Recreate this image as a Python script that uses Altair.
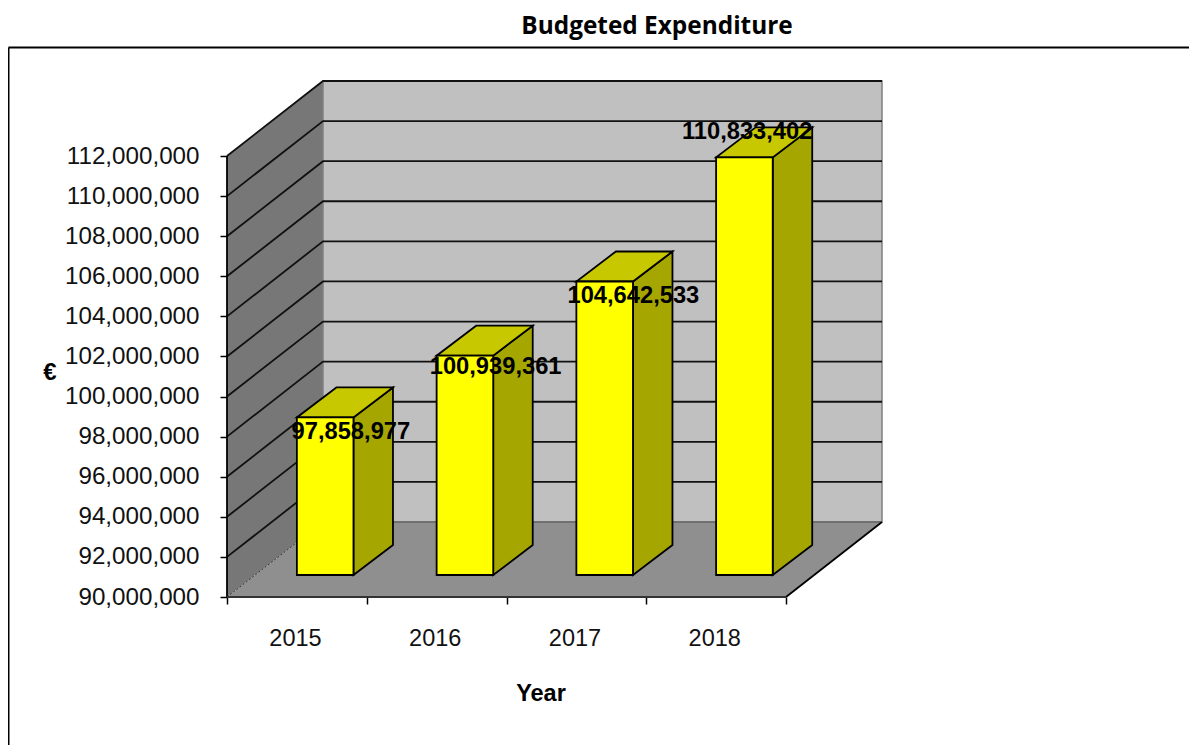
import altair as alt

# ---- chart values
years = ["2015", "2016", "2017", "2018"]
budget = [97858977, 100939361, 104642533, 110833402]
y_ticks = [90000000, 92000000, 94000000, 96000000, 98000000, 100000000,
           102000000, 104000000, 106000000, 108000000, 110000000, 112000000]

# ---- layout of the fake 3-D projection
PLOT_W, PLOT_H = 655, 516
PX_X = 139.75            # px per category
PX_Y = 441 / 22e6        # px per euro
BASE = 90000000
X_MAX = PLOT_W / PX_X
Y_MAX = BASE + PLOT_H / PX_Y
WALL_X = 96 / PX_X       # depth of the box
WALL_Y = 75 / PX_Y
BAR_X0, BAR_X1 = 0.5, 0.905
BAR_DX = 39.5 / PX_X     # depth of a bar
BAR_DY = 30 / PX_Y
BAR_LIFT = 22 / PX_Y
LABEL_DX = [54, 59, 57, 31]
LABEL_DY = [14.5, 11.5, 14.5, -25.5]
FONT = "Liberation Sans"

xs = alt.Scale(domain=[0, X_MAX], nice=False, zero=False)
ys = alt.Scale(domain=[BASE, Y_MAX], nice=False, zero=False)
year_js = "[" + ",".join(f"'{y}'" for y in years) + "]"
x_axis = alt.Axis(
    values=[0, 1, 2, 3, 4], domain=False, grid=False, tickSize=7, tickColor="#000000",
    tickWidth=1.5, labelExpr=f"{year_js}[datum.value] || ''", labelOffset=68,
    labelPadding=22, labelFont=FONT, labelFontSize=23.5, labelColor="#111111",
    labelOverlap=False, labelFlush=False, labelBound=False, title=None)
y_axis = alt.Axis(
    values=y_ticks, format=",d", domain=False, grid=False, tickSize=7, tickColor="#000000",
    tickWidth=1.5, labelPadding=21, labelFont=FONT, labelFontSize=24.2, labelColor="#111111",
    labelOverlap=False, labelFlush=False, labelBound=False, title=None)
X = lambda f, **k: alt.X(f"{f}:Q", scale=xs, axis=x_axis, **k)
Y = lambda f, **k: alt.Y(f"{f}:Q", scale=ys, axis=y_axis, stack=None, **k)
X2 = lambda f: alt.X2(f"{f}:Q")
Y2 = lambda f: alt.Y2(f"{f}:Q")


def D(rows):
    return alt.Data(values=rows)


# ---- box walls
side_wall = alt.Chart(D([
    {"x": 0, "lo": BASE, "hi": 112000000},
    {"x": WALL_X, "lo": BASE + WALL_Y, "hi": 112000000 + WALL_Y},
])).mark_area(color="#777777", clip=False).encode(x=X("x"), y=Y("lo"), y2=Y2("hi"))

back_wall = alt.Chart(D([
    {"a": WALL_X, "b": X_MAX, "lo": BASE + WALL_Y, "hi": Y_MAX},
])).mark_rect(fill="#C0C0C0", stroke="#808080", strokeWidth=1.5).encode(
    x=X("a"), x2=X2("b"), y=Y("lo"), y2=Y2("hi"))

floor = alt.Chart(D([
    {"y": BASE, "a": 0, "b": 4},
    {"y": BASE + WALL_Y, "a": WALL_X, "b": 4 + WALL_X},
])).mark_area(orient="horizontal", color="#8F8F8F").encode(y=Y("y"), x=X("a"), x2=X2("b"))

# ---- grid lines: along the side wall, then along the back wall
grid_rows = []
for v in y_ticks[1:]:
    grid_rows += [
        {"v": v, "k": 0, "x": 0, "y": v},
        {"v": v, "k": 1, "x": WALL_X, "y": v + WALL_Y},
        {"v": v, "k": 2, "x": X_MAX, "y": v + WALL_Y},
    ]
grid = alt.Chart(D(grid_rows)).mark_line(color="#111111", strokeWidth=1.8).encode(
    x=X("x"), y=Y("y"), detail="v:N", order="k:Q")

floor_edge = alt.Chart(D([
    {"x": 4, "y": BASE}, {"x": 4 + WALL_X, "y": BASE + WALL_Y},
])).mark_line(color="#000000", strokeWidth=1.8).encode(x=X("x"), y=Y("y"))

back_floor_edge = alt.Chart(D([
    {"x": WALL_X, "y": BASE + WALL_Y}, {"x": X_MAX, "y": BASE + WALL_Y},
])).mark_line(color="#666666", strokeWidth=1.5).encode(x=X("x"), y=Y("y"))

corner_edge = alt.Chart(D([
    {"x": 0, "y": BASE}, {"x": WALL_X, "y": BASE + WALL_Y},
])).mark_line(color="#333333", strokeWidth=1, strokeDash=[2, 2]).encode(x=X("x"), y=Y("y"))

# ---- bars
front_rows, side_rows, top_rows, label_rows = [], [], [], []
for i, (yr, val) in enumerate(zip(years, budget)):
    x0, x1 = i + BAR_X0, i + BAR_X1
    lo = BASE + BAR_LIFT
    hi = val + BAR_LIFT
    front_rows.append({"a": x0, "b": x1, "lo": lo, "hi": hi})
    side_rows += [
        {"bar": yr, "x": x1, "lo": lo, "hi": hi},
        {"bar": yr, "x": x1 + BAR_DX, "lo": lo + BAR_DY, "hi": hi + BAR_DY},
    ]
    top_rows += [
        {"bar": yr, "y": hi, "a": x0, "b": x1},
        {"bar": yr, "y": hi + BAR_DY, "a": x0 + BAR_DX, "b": x1 + BAR_DX},
    ]
    label_rows.append({
        "x": x0 + LABEL_DX[i] / PX_X,
        "y": hi - LABEL_DY[i] / PX_Y,
        "t": f"{val:,}",
    })

bar_side = alt.Chart(D(side_rows)).mark_area(
    color="#A6A600", stroke="#000000", strokeWidth=1.8
).encode(x=X("x"), y=Y("lo"), y2=Y2("hi"), detail="bar:N")

bar_top = alt.Chart(D(top_rows)).mark_area(
    orient="horizontal", color="#C8C800", stroke="#000000", strokeWidth=1.8
).encode(y=Y("y"), x=X("a"), x2=X2("b"), detail="bar:N")

bar_front = alt.Chart(D(front_rows)).mark_rect(
    fill="#FFFF00", stroke="#000000", strokeWidth=1.8
).encode(x=X("a"), x2=X2("b"), y=Y("lo"), y2=Y2("hi"))

labels = alt.Chart(D(label_rows)).mark_text(
    font=FONT, fontSize=23.7, fontWeight="bold", color="#000000", align="center", baseline="middle"
).encode(x=X("x"), y=Y("y"), text="t:N")

# ---- axis lines
y_line = alt.Chart(D([{"x": 0, "lo": BASE, "hi": 112000000}])).mark_rule(
    color="#000000", strokeWidth=1.8).encode(x=X("x"), y=Y("lo"), y2=Y2("hi"))
x_line = alt.Chart(D([{"a": 0, "b": 4, "y": BASE}])).mark_rule(
    color="#333333", strokeWidth=2).encode(x=X("a"), x2=X2("b"), y=Y("y"))


# ---- page furniture
def note(text, px, py, size, font=FONT):
    return alt.Chart(D([{"t": text}])).mark_text(
        font=font, fontSize=size, fontWeight="bold", color="#000000",
        align="center", baseline="middle"
    ).encode(x=alt.value(px - 227), y=alt.value(py - 81), text="t:N")


title = note("Budgeted Expenditure", 657, 27, 24.4, "Open Sans")
x_title = note("Year", 541, 694, 23.5)
y_title = note("€", 50, 373, 24)

frame_top = alt.Chart(D([{"k": 0}])).mark_rule(color="#000000", strokeWidth=2).encode(
    x=alt.value(8.5 - 227), x2=alt.value(1197 - 227), y=alt.value(47.5 - 81))
frame_left = alt.Chart(D([{"k": 0}])).mark_rule(color="#000000", strokeWidth=2).encode(
    x=alt.value(8.5 - 227), y=alt.value(47.5 - 81), y2=alt.value(753 - 81))

chart = alt.layer(
    frame_top, frame_left, side_wall, back_wall, floor, back_floor_edge, corner_edge,
    grid, floor_edge, y_line, x_line, bar_side, bar_top, bar_front, labels,
    title, x_title, y_title,
).properties(
    width=PLOT_W, height=PLOT_H,
    padding={"left": 219, "top": 73, "right": 307, "bottom": 148},
    autosize=alt.AutoSizeParams(type="none"),
    background="white",
).configure_view(stroke=None)

chart.save("out.html", embed_options={"renderer": "svg", "actions": False})
